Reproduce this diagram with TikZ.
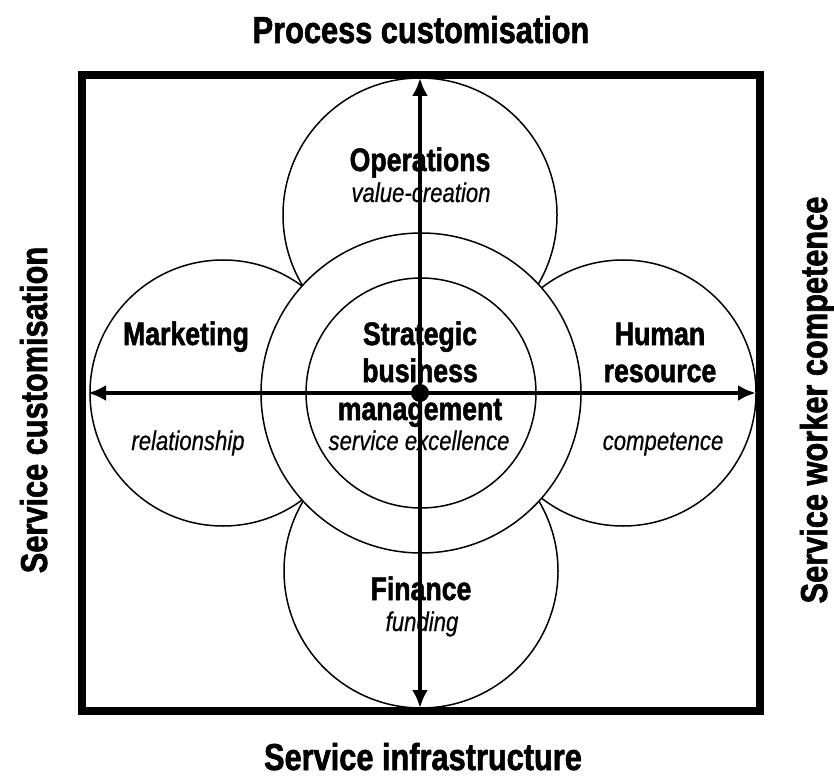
\documentclass[tikz,border=0pt]{standalone}
\usepackage{fontspec}
\setmainfont{Liberation Sans}[FakeStretch=0.82,
  BoldFeatures={FakeBold=1.6},
  ItalicFeatures={FakeBold=0.5}]
\usetikzlibrary{arrows.meta}
\begin{document}
\begin{tikzpicture}[x=1pt,y=-1pt,
  axislabel/.style={font=\fontsize{37.5}{40}\selectfont\bfseries, inner sep=0pt, anchor=base},
  headlabel/.style={font=\fontsize{32.5}{36}\selectfont\bfseries, inner sep=0pt, anchor=base},
  sublabel/.style={font=\fontsize{27}{30}\selectfont\itshape, inner sep=0pt, anchor=base},
  petal/.style={circle, draw, line width=1.5pt, inner sep=0pt, minimum size=#1},
  axis/.style={line width=4.5pt, {Latex[length=18pt,width=16pt]}-{Latex[length=18pt,width=16pt]}},
]
\useasboundingbox (0,0) rectangle (834,783);

% outer frame
\draw[line width=7.5pt] (82,75) rectangle (760,711);

% four outer circles
\node[petal=274pt] (ops) at (420,215) {};
\node[petal=274pt] (fin) at (421,571) {};
\node[petal=266pt] (mkt) at (223,393) {};
\node[petal=266pt] (hr)  at (623,393) {};

% central rings, covering the outer circles
\node[petal=320pt, fill=white] (ring) at (421,393) {};
\node[petal=230pt] (core) at (421,393) {};

% axis labels
\node[axislabel] (top)    at (421,43)  {Process customisation};
\node[axislabel] (bottom) at (423,770) {Service infrastructure};
\node[axislabel, rotate=90] (left)  at (47,410)  {Service customisation};
\node[axislabel, rotate=90] (right) at (827,400) {Service worker competence};

% circle labels
\node[headlabel] (opsT) at (420,171) {Operations};
\node[sublabel]  (opsS) at (421,202) {value-creation};

\node[headlabel] (mktT) at (186,345) {Marketing};
\node[sublabel]  (mktS) at (188,450) {relationship};

\node[headlabel] (hrT1) at (660,345) {Human};
\node[headlabel] (hrT2) at (660,382) {resource};
\node[sublabel]  (hrS)  at (663,450) {competence};

\node[headlabel] (sbm1) at (420,345) {Strategic};
\node[headlabel] (sbm2) at (420,382) {business};
\node[headlabel] (sbm3) at (420,420) {management};
\node[sublabel]  (sbmS) at (419,450) {service excellence};

\node[headlabel] (finT) at (421,600) {Finance};
\node[sublabel]  (finS) at (422,631) {funding};

% axes
\coordinate (west)  at (88,393);
\coordinate (east)  at (756,393);
\coordinate (north) at (420,78);
\coordinate (south) at (420,708);
\coordinate (hub)   at (420,393);
\draw[axis] (west) -- (east);
\draw[axis] (north) -- (south);
\fill (hub) circle (9);
\end{tikzpicture}
\end{document}
